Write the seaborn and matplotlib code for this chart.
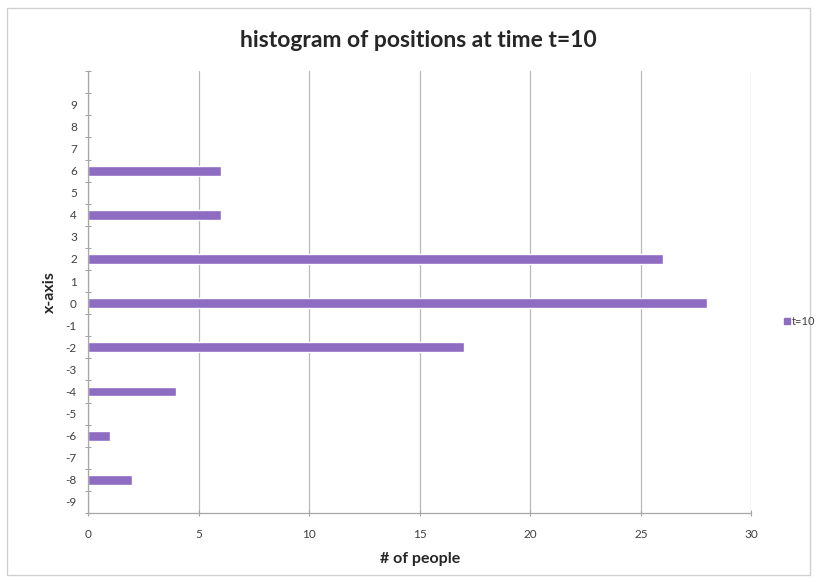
import matplotlib
matplotlib.use("Agg")
import matplotlib.pyplot as plt
from matplotlib.lines import Line2D
from matplotlib.patches import Rectangle
import seaborn as sns
import pandas as pd
import numpy as np

# positions, top to bottom (blank slot at top as in the original)
positions = ["", "9", "8", "7", "6", "5", "4", "3", "2", "1", "0",
             "-1", "-2", "-3", "-4", "-5", "-6", "-7", "-8", "-9"]
counts = [0, 0, 0, 0, 6, 0, 6, 0, 26, 0, 28, 0, 17, 0, 4, 0, 1, 0, 2, 0]
series_name = "t=10"
x_ticks = [0, 5, 10, 15, 20, 25, 30]

df = pd.DataFrame({"position": positions, "count": counts})

sns.set_theme(style="white")
plt.rcParams["font.family"] = ["Lato", "DejaVu Sans"]

bar_color = "#8d6cc1"
axis_color = "#a6a6a6"
text_color = "#404040"

fig = plt.figure(figsize=(8.17, 5.82), dpi=100)
ax = fig.add_axes([0.1077, 0.1186, 0.812, 0.759])

sns.barplot(data=df, x="count", y="position", order=positions, orient="h",
            color=bar_color, saturation=1, width=0.45, ax=ax)

ax.set_xlim(0, 30)
ax.set_ylim(len(positions) - 0.5, -0.5)
ax.set_xticks(x_ticks)
ax.set_xticklabels([str(v) for v in x_ticks])

# category boundaries as minor ticks, labels on the centres
ax.set_yticks(np.arange(-0.5, len(positions), 1.0), minor=True)
ax.tick_params(axis="y", which="major", length=0, labelsize=8.5,
               labelcolor=text_color, pad=8)
ax.tick_params(axis="y", which="minor", length=5, direction="inout",
               color=axis_color, width=0.8, left=True)
ax.tick_params(axis="x", which="major", length=5, direction="inout",
               color=axis_color, width=0.8, labelsize=8.5,
               labelcolor=text_color, pad=9, bottom=True)

ax.grid(axis="x", color="#b8b8b8", linewidth=0.9)
ax.set_axisbelow(True)
for side in ["top", "right"]:
    ax.spines[side].set_visible(False)
for side in ["left", "bottom"]:
    ax.spines[side].set_color(axis_color)
    ax.spines[side].set_linewidth(0.9)

ax.set_xlabel("# of people", fontsize=11.5, fontweight="bold",
              color="#262626", labelpad=9)
ax.set_ylabel("x-axis", fontsize=11.5, fontweight="bold",
              color="#262626", labelpad=6)
fig.text(0.512, 0.93, "histogram of positions at time t=10",
         ha="center", va="center", fontsize=16.5, fontweight="bold",
         color="#262626")

handle = Line2D([], [], marker="s", linestyle="none", markersize=5,
                markerfacecolor=bar_color, markeredgecolor=bar_color)
fig.legend([handle], [series_name], loc="center left",
           bbox_to_anchor=(0.945, 0.448), frameon=False, fontsize=8,
           handletextpad=0.1, handlelength=0.8, labelcolor=text_color)

# light frame around the chart area
fig.patches.append(Rectangle((0.008, 0.012), 0.984, 0.975,
                             transform=fig.transFigure, fill=False,
                             edgecolor="#d0d0d0", linewidth=1))

fig.savefig("out.png", dpi=100)
